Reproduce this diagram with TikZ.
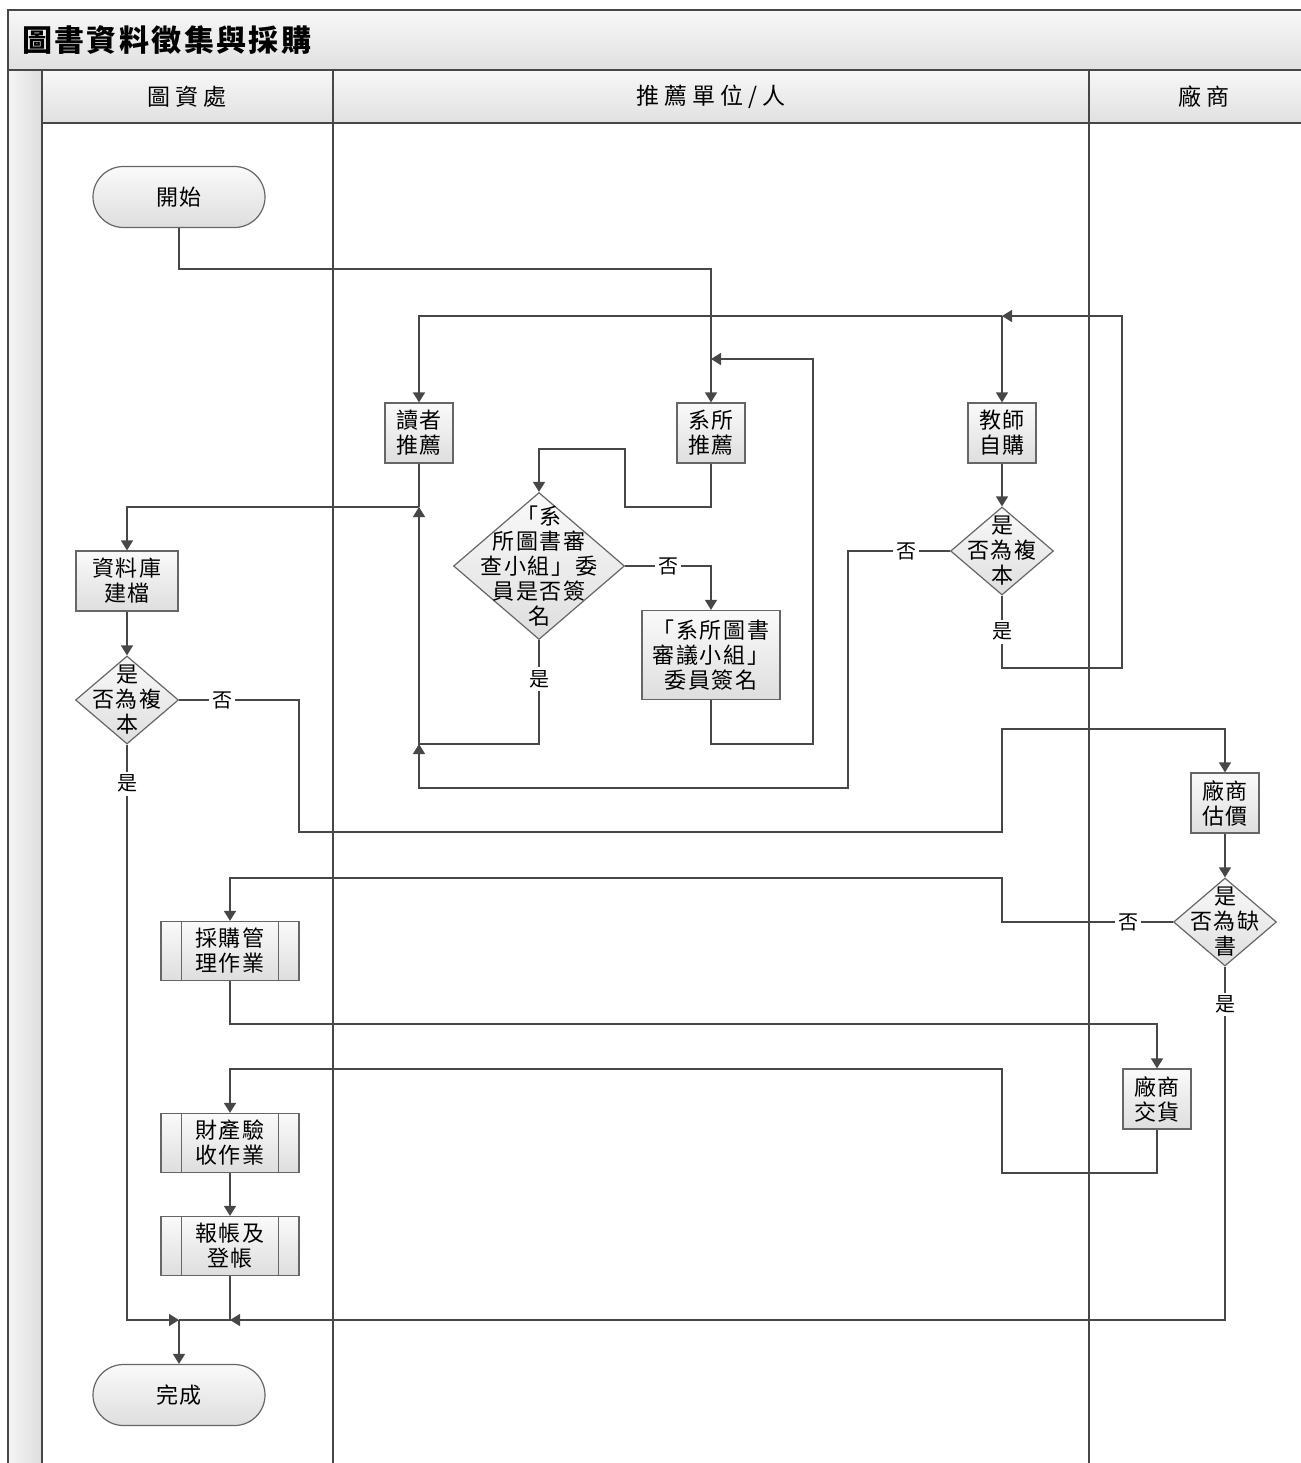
\documentclass[tikz,border=0pt]{standalone}
\usepackage{fontspec}
\setmainfont[LetterSpace=8]{Noto Sans CJK TC}
\usetikzlibrary{arrows.meta, shapes.geometric, shapes.misc}

\begin{document}
\begin{tikzpicture}[x=0.5pt, y=-0.5pt,
    line/.style={draw=black!72, line width=0.7pt},
    flow/.style={line, -{Triangle[length=5pt, width=6pt]}},
    box/.style={draw=black!60, line width=0.6pt, top color=black!2, bottom color=black!13,
      align=center, inner sep=0pt, font=\fontsize{11}{12.5}\selectfont},
    proc/.style={box, rectangle, minimum width=34pt, minimum height=30pt},
    sub/.style={box, rectangle, minimum width=69pt, minimum height=29.5pt},
    term/.style={box, rounded rectangle, minimum width=86pt, minimum height=30.5pt},
    decide/.style={box, diamond, inner sep=-12pt, minimum width=51.5pt, minimum height=44pt},
    lbl/.style={fill=white, inner sep=1.5pt, font=\fontsize{10}{12}\selectfont},
    lane/.style={draw=black!72, line width=0.8pt},
    head/.style={font=\fontsize{11.5}{13}\selectfont\addfontfeatures{LetterSpace=22}}
  ]
  \useasboundingbox (0,0) rectangle (1301,1463);

  % Pool frame
  \begin{scope}
    \shade[top color=black!3, bottom color=black!12] (8,10) rectangle (1301,70);
    \shade[left color=black!4, right color=black!13] (8,70) rectangle (42,1463);
    \shade[top color=black!3, bottom color=black!12] (42,70) rectangle (1301,123);
    \draw[lane] (1301,10) -- (8,10) -- (8,1463);
    \draw[lane] (8,70) -- (1301,70);
    \draw[lane] (42,123) -- (1301,123);
    \foreach \x in {42,333,1089} {
      \draw[lane] (\x,70) -- (\x,1463);
    }
    \node[anchor=west, font=\fontsize{15}{18}\selectfont\bfseries] (title) at (15,40) {圖書資料徵集與採購};
    \node[head] (lib) at (187,97) {圖資處};
    \node[head] (recommender) at (711,97) {推薦單位/人};
    \node[head] (vendor) at (1204,97) {廠商};
  \end{scope}

  % Steps
  \node[term] (start) at (179,197) {開始};
  \node[proc] (reader) at (419,433) {讀者\\推薦};
  \node[proc] (dept) at (711,433) {系所\\推薦};
  \node[proc] (teacher) at (1002,433) {教師\\自購};
  \node[decide, minimum width=85.5pt, minimum height=73.5pt] (check) at (539,566)
    {「系\\所圖書審\\查小組」委\\員是否簽\\名};
  \node[proc, minimum width=69pt, minimum height=44.5pt] (sign) at (711,655)
    {「系所圖書\\審議小組」\\委員簽名};
  \node[decide] (dupT) at (1002,551) {是\\否為複\\本};
  \node[proc, minimum width=51pt] (db) at (127,581) {資料庫\\建檔};
  \node[decide] (dupL) at (127,700) {是\\否為複\\本};
  \node[proc] (quote) at (1225,803) {廠商\\估價};
  \node[decide] (lack) at (1225,922) {是\\否為缺\\書};
  \node[sub] (buy) at (230,951) {採購管\\理作業};
  \node[proc] (deliver) at (1157,1099) {廠商\\交貨};
  \node[sub] (accept) at (230,1143) {財產驗\\收作業};
  \node[sub] (account) at (230,1246) {報帳及\\登帳};
  \node[term] (finish) at (179,1395) {完成};

  % inner bars of the sub-process boxes
  \foreach \n in {buy, accept, account} {
    \draw[draw=black!60, line width=0.6pt] ([xshift=10.5pt]\n.north west) -- ([xshift=10.5pt]\n.south west);
    \draw[draw=black!60, line width=0.6pt] ([xshift=-10.5pt]\n.north east) -- ([xshift=-10.5pt]\n.south east);
  }

  % Junctions
  \coordinate (jTop) at (1002,316);
  \coordinate (jDept) at (711,359);
  \coordinate (jRead) at (419,507);
  \coordinate (jLow) at (419,744);
  \coordinate (jEnd) at (179,1320);
  \coordinate (jAcc) at (230,1320);

  % Connectors
  \draw[flow] (start.south) -- (179,269) -| (dept.north);
  \draw[flow] (dupT.south) -- node[lbl] (yesT) {是} (1002,668) -| (1122,316) -- (jTop);
  \draw[flow] (jTop) -| (reader.north);
  \draw[flow] (jTop) -- (teacher.north);
  \draw[flow] (teacher.south) -- (dupT.north);
  \draw[flow] (dept.south) -- (711,507) -| (625,449) -| (check.north);
  \draw[flow] (check.east) -- node[lbl, pos=0.5] (noC) {否} (711,566) -- (sign.north);
  \draw[flow] (sign.south) -- (711,744) -| (813,359) -- (jDept);
  \draw[flow] (check.south) -- node[lbl, pos=0.375] (yesC) {是} (539,744) -- (jLow) -- (jRead);
  \draw[flow] (dupT.west) -- node[lbl, pos=0.43] (noT) {否} (848,551) |- (419,788) -- (jLow);
  \draw[line] (reader.south) -- (jRead);
  \draw[flow] (jRead) -| (db.north);
  \draw[flow] (db.south) -- (dupL.north);
  \draw[flow] (dupL.east) -- node[lbl, pos=0.36] (noL) {否} (299,700) |- (1002,832) |- (1225,729) -- (quote.north);
  \draw[flow] (dupL.south) -- node[lbl, pos=0.068] (yesL) {是} (127,1320) -- (jEnd);
  \draw[flow] (jEnd) -- (finish.north);
  \draw[flow] (quote.south) -- (lack.north);
  \draw[flow] (lack.west) -- node[lbl, pos=0.26] (noK) {否} (1002,922) |- (230,878) -- (buy.north);
  \draw[flow] (lack.south) -- node[lbl, pos=0.107] (yesK) {是} (1225,1320) -- (jAcc);
  \draw[flow] (buy.south) -- (230,1024) -| (deliver.north);
  \draw[flow] (deliver.south) -- (1157,1173) -| (1002,1069) -| (accept.north);
  \draw[flow] (accept.south) -- (account.north);
  \draw[line] (account.south) -- (jAcc) -- (jEnd);
\end{tikzpicture}
\end{document}
